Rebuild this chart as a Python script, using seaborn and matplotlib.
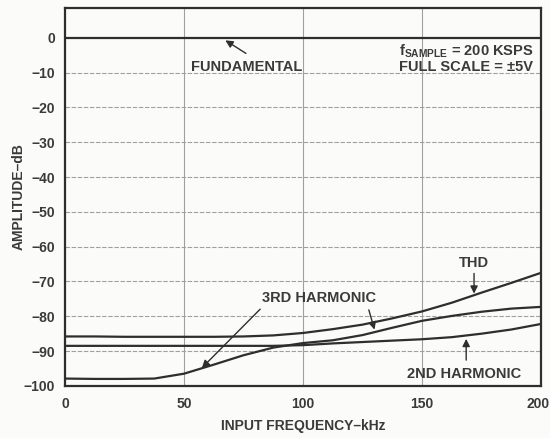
import pandas as pd
import seaborn as sns
import matplotlib
matplotlib.use("Agg")
import matplotlib.pyplot as plt
import matplotlib.transforms as mtransforms

# values
freq_khz = [0, 12.5, 25, 37.5, 50, 62.5, 75, 87.5, 100, 112.5, 125, 137.5, 150, 162.5, 175, 187.5, 200]
fundamental = [0] * 17
thd = [-85.8, -85.8, -85.9, -85.9, -85.9, -85.9, -85.8, -85.5, -84.8, -83.7, -82.4, -80.6, -78.6,
       -76.1, -73.2, -70.4, -67.5]
third_harmonic = [-97.9, -98.0, -98.0, -97.9, -96.5, -93.9, -91.2, -89.0, -87.7, -86.9, -85.4, -83.3,
                  -81.3, -79.9, -78.7, -77.8, -77.3]
second_harmonic = [-88.5, -88.5, -88.5, -88.5, -88.5, -88.5, -88.5, -88.5, -88.3, -87.8, -87.4, -87.0,
                   -86.6, -86.0, -85.0, -83.8, -82.2]
x_ticks = [0, 50, 100, 150, 200]
y_ticks = [0, -10, -20, -30, -40, -50, -60, -70, -80, -90, -100]

df = pd.DataFrame({
    "freq": freq_khz,
    "FUNDAMENTAL": fundamental,
    "THD": thd,
    "3RD HARMONIC": third_harmonic,
    "2ND HARMONIC": second_harmonic,
})

sns.set_style("white")
plt.rcParams["font.family"] = ["Liberation Sans", "DejaVu Sans"]
plt.rcParams["font.weight"] = "bold"
plt.rcParams["mathtext.fontset"] = "custom"
plt.rcParams["mathtext.rm"] = "Liberation Sans:bold"
plt.rcParams["mathtext.it"] = "Liberation Sans:bold"

ink = "#2e2e2e"
txt = "#3a3a3a"

fig = plt.figure(figsize=(5.5, 4.38), dpi=100, facecolor="#fbfbfa")
ax = fig.add_axes([0.118, 0.119, 0.866, 0.863])
ax.set_facecolor("#fbfbfa")

# grid
for y in y_ticks[1:-1]:
    ax.axhline(y, color="#a0a0a0", lw=0.8, ls=(0, (4, 1.5)), zorder=1)
for x in x_ticks[1:-1]:
    ax.axvline(x, color="#a0a0a0", lw=0.8, zorder=1)

for col in ["FUNDAMENTAL", "THD", "3RD HARMONIC", "2ND HARMONIC"]:
    sns.lineplot(x="freq", y=col, data=df, ax=ax, color=ink, lw=1.6, zorder=3)

ax.set_xlim(0, 200)
ax.set_ylim(-100, 8.6)
ax.set_xticks(x_ticks)
ax.set_yticks(y_ticks)
ax.set_yticklabels([str(v).replace("-", "\u2212") for v in y_ticks])
ax.tick_params(length=0, labelsize=10, colors=txt)
ax.tick_params(axis="x", pad=8)
ax.tick_params(axis="y", pad=7)
for lab in ax.get_xticklabels() + ax.get_yticklabels():
    lab.set_fontweight("bold")
last = ax.get_xticklabels()[-1]
last.set_transform(last.get_transform() + mtransforms.ScaledTranslation(-3 / 100, 0, fig.dpi_scale_trans))
for s in ax.spines.values():
    s.set_color(ink)
    s.set_linewidth(1.6)

ax.set_xlabel("INPUT FREQUENCY\u2013kHz", fontsize=10, fontweight="bold", color=txt, labelpad=6)
ax.set_ylabel("AMPLITUDE\u2013dB", fontsize=10, fontweight="bold", color=txt, labelpad=-1)

arrow = dict(arrowstyle="-|>", color=ink, lw=1.0, mutation_scale=11)
fs = 10.5
ax.annotate("", xy=(66.4, -0.3), xytext=(77, -4.9), arrowprops=arrow)
ax.text(76.5, -8.3, "FUNDAMENTAL", fontsize=fs, color=txt, fontweight="bold", ha="center", va="center")
ax.text(196.6, -4.0, r"f$_{\mathrm{SAMPLE}}$ = 200 KSPS", fontsize=fs, color=txt,
        fontweight="bold", ha="right", va="center")
ax.text(196.6, -8.4, "FULL SCALE = \u00b15V", fontsize=fs, color=txt,
        fontweight="bold", ha="right", va="center")

ax.text(171.8, -64.7, "THD", fontsize=fs, color=txt, fontweight="bold", ha="center", va="center")
ax.annotate("", xy=(171.8, -74.3), xytext=(171.8, -66.9), arrowprops=arrow)

ax.text(106.7, -74.7, "3RD HARMONIC", fontsize=fs, color=txt, fontweight="bold", ha="center", va="center")
ax.annotate("", xy=(56.7, -95.4), xytext=(82.8, -77.4), arrowprops=arrow)
ax.annotate("", xy=(130.3, -84.6), xytext=(127.3, -77.4), arrowprops=arrow)

ax.text(167.6, -96.6, "2ND HARMONIC", fontsize=fs, color=txt, fontweight="bold", ha="center", va="center")
ax.annotate("", xy=(168.5, -85.7), xytext=(168.5, -93.4), arrowprops=arrow)

fig.savefig("out.png", dpi=100, facecolor=fig.get_facecolor())
